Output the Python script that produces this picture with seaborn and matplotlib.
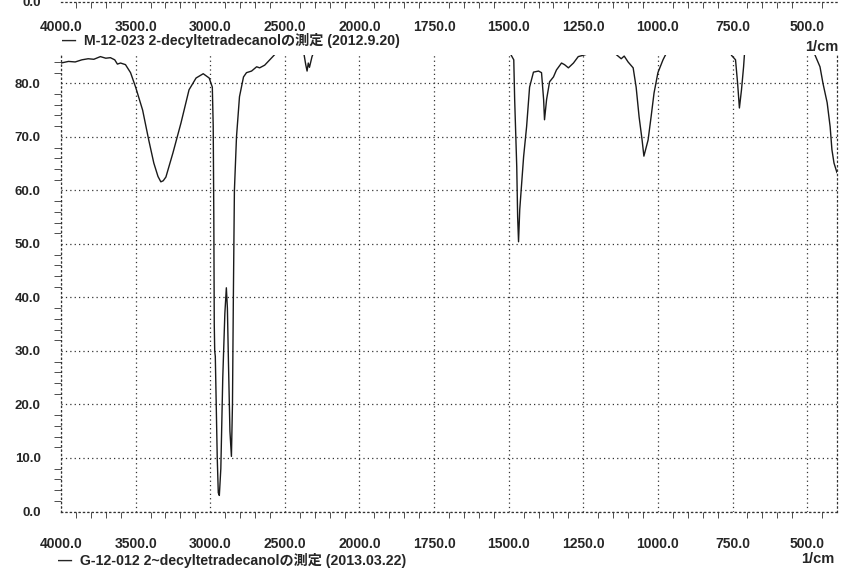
import matplotlib
matplotlib.use("Agg")
import matplotlib.pyplot as plt
import numpy as np
import pandas as pd
import seaborn as sns

# IR spectrum (wavenumber 1/cm, %T); values above ~85 run off the top
wavenumber = [4000, 3950, 3905, 3860, 3818, 3780, 3736, 3700, 3669, 3640, 3622, 3601,
              3568, 3534, 3500, 3453, 3412, 3378, 3350, 3331, 3315, 3297, 3250, 3196,
              3142, 3095, 3047, 3007, 2986, 2980, 2976, 2973, 2970, 2966, 2960, 2953,
              2946, 2939, 2929, 2916, 2902, 2892, 2885, 2878, 2868, 2858, 2851, 2845,
              2838, 2824, 2804, 2777, 2757, 2723, 2689, 2669, 2635, 2601, 2574, 2500,
              2420, 2380, 2372, 2360, 2351, 2343, 2335, 2318, 2297, 2200, 1900, 1600,
              1510, 1497, 1483, 1480, 1473, 1470, 1467, 1463, 1450, 1440, 1430, 1417,
              1400, 1390, 1383, 1380, 1373, 1363, 1350, 1340, 1323, 1313, 1300, 1283,
              1267, 1247, 1230, 1190, 1150, 1140, 1123, 1113, 1100, 1083, 1073, 1063,
              1053, 1047, 1033, 1023, 1013, 1000, 983, 973, 900, 800, 760, 753,
              740, 733, 727, 720, 713, 710, 650, 520, 480, 473, 457, 447,
              433, 423, 417, 410, 400]
transmittance = [83.8, 84.1, 84.0, 84.4, 84.6, 84.5, 85.0, 84.7, 84.8, 84.4, 83.6, 83.8,
                 83.5, 82.0, 79.3, 75.0, 69.4, 65.1, 62.6, 61.6, 61.8, 62.5, 67.0, 72.6,
                 78.8, 81.0, 81.8, 81.0, 79.3, 72.0, 55.0, 35.0, 30.0, 29.0, 20.0, 10.0,
                 3.5, 3.0, 8.0, 25.0, 37.0, 41.8, 38.0, 28.0, 15.0, 10.3, 20.0, 40.0,
                 60.0, 70.0, 77.5, 81.2, 82.0, 82.3, 83.1, 82.9, 83.4, 84.4, 85.2, 87.5,
                 87.0, 86.5, 85.5, 83.5, 82.3, 83.8, 83.0, 85.0, 86.5, 88.0, 88.0, 88.0,
                 87.0, 85.8, 84.4, 77.0, 64.4, 55.0, 50.4, 56.4, 66.3, 71.9, 79.3, 82.1,
                 82.3, 82.0, 77.0, 73.2, 77.0, 80.3, 81.2, 82.5, 83.8, 83.5, 82.9, 83.8,
                 85.0, 85.3, 85.6, 87.0, 86.5, 85.4, 84.6, 85.1, 84.0, 82.9, 79.3, 73.7,
                 69.4, 66.4, 69.4, 73.7, 78.2, 82.0, 84.4, 85.5, 88.0, 88.0, 86.0, 85.2,
                 84.4, 80.0, 75.4, 78.8, 83.1, 85.5, 88.0, 88.0, 86.0, 85.2, 83.1, 80.0,
                 76.4, 71.9, 67.6, 65.1, 63.3]

x_major = [4000, 3500, 3000, 2500, 2000, 1750, 1500, 1250, 1000, 750, 500]
y_major = [0, 10, 20, 30, 40, 50, 60, 70, 80]
top_legend = "—  M-12-023 2-decyltetradecanolの測定 (2012.9.20)"
bottom_legend = "—  G-12-012 2~decyltetradecanolの測定 (2013.03.22)"
unit_label = "1/cm"

df = pd.DataFrame({"wn": wavenumber, "T": transmittance})


# scale changes at 2000 1/cm: half the spacing above it
def fwd(x):
    x = np.asarray(x, dtype=float)
    return np.where(x > 2000, 2000 + (x - 2000) / 2, x)


def inv(u):
    u = np.asarray(u, dtype=float)
    return np.where(u > 2000, 2000 + (u - 2000) * 2, u)


sns.set_theme(style="white")
plt.rcParams["font.family"] = ["Liberation Sans", "Noto Sans CJK JP"]
plt.rcParams["font.weight"] = "bold"

W, H = 846, 569
fig = plt.figure(figsize=(W / 100, H / 100), dpi=100)
fig.patch.set_facecolor("white")

x0, x1 = 61, 837
y_bot, y_top = 511.5, 55
ax = fig.add_axes([x0 / W, (H - y_bot) / H, (x1 - x0) / W, (y_bot - y_top) / H])
ax_top = fig.add_axes([x0 / W, (H - 2) / H, (x1 - x0) / W, 0.1])

minor_x = [v for v in range(3900, 2000, -100) if v % 500] + \
          [v for v in range(1950, 400, -50) if v % 250]
minor_y = [v for v in range(2, 86, 2) if v % 10]
dots = (0, (1, 2.5))

sns.lineplot(data=df, x="wn", y="T", ax=ax, sort=False, estimator=None,
             color="0.1", linewidth=1.0)

for a in (ax, ax_top):
    a.set_xscale("function", functions=(fwd, inv))
    a.set_xlim(4000, 400)
    a.set_xticks(x_major)
    a.set_xticks(minor_x, minor=True)
    a.set_xticklabels([f"{v:.1f}" for v in x_major])
    a.set_xlabel("")
    a.set_ylabel("")
    a.set_facecolor("none")
    a.tick_params(axis="x", which="major", direction="out", length=10, width=0.8,
                  color="0.2", pad=8, labelsize=10)
    a.tick_params(axis="x", which="minor", direction="out", length=4.5, width=0.7,
                  color="0.3", bottom=True)
    for s in a.spines.values():
        s.set_linestyle(dots)
        s.set_color("0.2")
        s.set_linewidth(0.9)
    a.spines["top"].set_visible(False)

ax.set_ylim(0, 85.3)
ax.set_yticks(y_major)
ax.set_yticks(minor_y, minor=True)
ax.set_yticklabels([f"{v:.1f}" for v in y_major])
ax.tick_params(axis="y", which="major", direction="out", length=9.5, width=0.8,
               color="0.2", pad=5, labelsize=9.5)
ax.tick_params(axis="y", which="minor", direction="out", length=5, width=0.7,
               color="0.3", left=True)
ax.grid(True, which="major", color="0.2", linestyle=dots, linewidth=0.9)

ax_top.set_ylim(0, 85.3)
ax_top.set_yticks([0])
ax_top.set_yticklabels(["0.0"])
ax_top.tick_params(axis="y", length=9.5, pad=5, labelsize=9.5)
ax_top.tick_params(axis="x", which="major", length=6, pad=7)
ax_top.spines["left"].set_visible(False)
ax_top.spines["right"].set_visible(False)

fig.text(62 / W, 1 - 40 / H, top_legend, fontsize=10.2, va="center", ha="left")
fig.text(58 / W, 1 - 560 / H, bottom_legend, fontsize=10.2, va="center", ha="left")
fig.text(838 / W, 1 - 47 / H, unit_label, fontsize=10.5, va="center", ha="right")
fig.text(834 / W, 1 - 559 / H, unit_label, fontsize=10.5, va="center", ha="right")

fig.savefig("out.png", dpi=100, facecolor="white")
